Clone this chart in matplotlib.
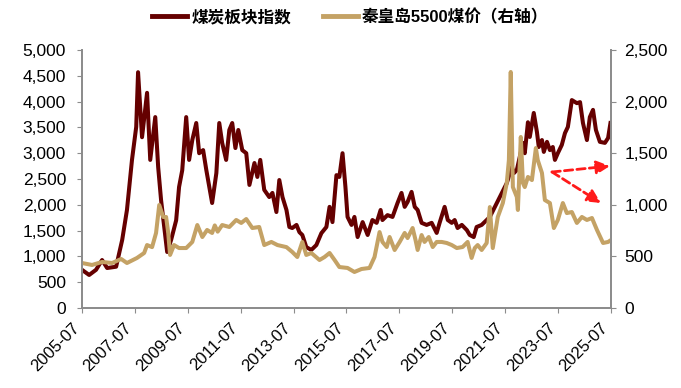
import matplotlib
matplotlib.use('Agg')
import matplotlib.pyplot as plt
from matplotlib.font_manager import FontProperties

# coal sector index (left axis), decimal year
idx_t = [2005.50, 2005.77, 2006.03, 2006.26, 2006.45, 2006.79, 2007.02, 2007.20, 2007.39, 2007.55,
         2007.62, 2007.77, 2007.96, 2008.08, 2008.27, 2008.38, 2008.49, 2008.61, 2008.72, 2008.87,
         2009.06, 2009.17, 2009.29, 2009.44, 2009.55, 2009.67, 2009.82, 2009.93, 2010.08, 2010.20,
         2010.42, 2010.58, 2010.69, 2010.80, 2010.95, 2011.07, 2011.18, 2011.30, 2011.41, 2011.56,
         2011.71, 2011.83, 2012.02, 2012.13, 2012.24, 2012.39, 2012.58, 2012.70, 2012.85, 2012.96,
         2013.08, 2013.23, 2013.34, 2013.45, 2013.61, 2013.72, 2013.83, 2013.98, 2014.17, 2014.36,
         2014.55, 2014.74, 2014.86, 2014.97, 2015.12, 2015.23, 2015.35, 2015.46, 2015.54, 2015.69,
         2015.80, 2015.92, 2016.11, 2016.30, 2016.48, 2016.64, 2016.79, 2016.86, 2017.05, 2017.24,
         2017.43, 2017.58, 2017.70, 2017.81, 2017.96, 2018.08, 2018.19, 2018.34, 2018.53, 2018.72,
         2018.91, 2019.02, 2019.21, 2019.33, 2019.48, 2019.59, 2019.70, 2019.86, 2020.05, 2020.16,
         2020.31, 2020.42, 2020.61, 2020.80, 2020.92, 2021.11, 2021.37, 2021.56, 2021.75, 2021.83,
         2021.94, 2022.05, 2022.17, 2022.24, 2022.36, 2022.43, 2022.58, 2022.70, 2022.77, 2022.89,
         2022.96, 2023.08, 2023.19, 2023.30, 2023.38, 2023.49, 2023.64, 2023.76, 2023.87, 2024.02,
         2024.21, 2024.33, 2024.44, 2024.59, 2024.70, 2024.82, 2024.93, 2025.08, 2025.27, 2025.39,
         2025.48]
idx_v = [740, 640, 740, 930, 775, 800, 1320, 1900, 2870, 3510,
         4570, 3310, 4170, 2870, 3700, 2730, 2090, 1570, 1085, 1320,
         1700, 2345, 2670, 3700, 2870, 3255, 3585, 3000, 3060, 2675,
         2035, 2615, 3585, 3200, 2870, 3450, 3585, 3100, 3450, 3060,
         3000, 2385, 2810, 2540, 2870, 2290, 2150, 2230, 1860, 2480,
         2150, 1900, 1570, 1550, 1610, 1470, 1415, 1180, 1125, 1220,
         1450, 1570, 1960, 1665, 2575, 2540, 3000, 2345, 1765, 1610,
         1765, 1375, 1665, 1415, 1705, 1650, 1900, 1705, 1800, 1765,
         2035, 2230, 1960, 2055, 2250, 1960, 1900, 1650, 1610, 1650,
         1455, 1650, 1960, 1705, 1650, 1705, 1550, 1610, 1510, 1415,
         1375, 1570, 1610, 1705, 1765, 1960, 2230, 2420, 2735, 2615,
         2675, 2930, 3200, 3000, 3600, 3315, 3780, 3410, 3120, 3255,
         3025, 3220, 3060, 3120, 2870, 3000, 3160, 3390, 3510, 4030,
         3970, 3990, 3585, 3255, 3700, 3840, 3450, 3220, 3200, 3295,
         3585]

# Qinhuangdao 5500 coal price (right axis)
px_t = [2005.50, 2005.88, 2006.26, 2006.64, 2006.98, 2007.20, 2007.58, 2007.85, 2007.96, 2008.15,
        2008.30, 2008.42, 2008.57, 2008.68, 2008.76, 2008.83, 2008.98, 2009.17, 2009.44, 2009.67,
        2009.86, 2010.05, 2010.23, 2010.42, 2010.52, 2010.63, 2010.80, 2011.07, 2011.33, 2011.52,
        2011.71, 2011.94, 2012.20, 2012.39, 2012.66, 2012.89, 2013.23, 2013.45, 2013.64, 2013.83,
        2013.98, 2014.17, 2014.48, 2014.67, 2014.86, 2015.05, 2015.23, 2015.54, 2015.80, 2016.07,
        2016.37, 2016.56, 2016.75, 2016.86, 2017.02, 2017.13, 2017.32, 2017.51, 2017.70, 2017.81,
        2018.00, 2018.11, 2018.19, 2018.34, 2018.45, 2018.61, 2018.76, 2018.91, 2019.10, 2019.29,
        2019.48, 2019.67, 2019.89, 2020.08, 2020.23, 2020.35, 2020.46, 2020.61, 2020.80, 2020.92,
        2021.03, 2021.22, 2021.41, 2021.56, 2021.64, 2021.71, 2021.79, 2021.94, 2021.98, 2022.09,
        2022.17, 2022.24, 2022.36, 2022.51, 2022.66, 2022.73, 2022.89, 2023.00, 2023.19, 2023.34,
        2023.49, 2023.68, 2023.83, 2024.02, 2024.21, 2024.40, 2024.59, 2024.78, 2024.97, 2025.20,
        2025.39, 2025.48]
px_v = [436, 417, 446, 436, 475, 436, 485, 533, 610, 590,
        727, 998, 882, 882, 727, 514, 610, 581, 581, 640,
        804, 688, 756, 727, 800, 740, 804, 785, 853, 824,
        862, 775, 785, 610, 640, 610, 590, 543, 494, 640,
        514, 533, 465, 494, 533, 465, 397, 388, 349, 378,
        388, 494, 736, 640, 591, 688, 562, 640, 727, 678,
        775, 659, 562, 707, 640, 688, 591, 640, 640, 630,
        610, 581, 591, 640, 485, 581, 610, 562, 630, 978,
        581, 882, 1017, 1211, 1434, 2287, 1172, 1076, 950, 1657,
        1211, 1172, 1270, 1240, 1550, 1434, 1308, 1046, 1017, 775,
        853, 1017, 920, 930, 824, 882, 853, 872, 756, 630,
        640, 655]

tick_years = list(range(2005, 2026, 2))
tick_labels = [f'{y}-07' for y in tick_years]

# red dashed arrows (left-axis data coords)
arrow_start = (2023.27, 2636)
arrow_ends = [(2025.46, 2752), (2025.12, 2035)]

red = '#650000'
tan = '#C4A265'
grey = '#8c8c8c'

fig = plt.figure(figsize=(6.81, 3.88), dpi=100)
ax = fig.add_axes([0.1204, 0.2062, 0.8972 - 0.1204, 0.8711 - 0.2062])
ax2 = ax.twinx()

l1, = ax.plot(idx_t, idx_v, color=red, lw=2.9, solid_joinstyle='round')
l2, = ax2.plot(px_t, px_v, color=tan, lw=2.9, solid_joinstyle='round')

ax.set_xlim(2005.5, 2025.5)
ax.set_ylim(0, 5000)
ax2.set_ylim(0, 2500)
ax.set_yticks(range(0, 5001, 500))
ax2.set_yticks(range(0, 2501, 500))
ax.set_yticklabels([f'{v:,}' for v in range(0, 5001, 500)])
ax2.set_yticklabels([f'{v:,}' for v in range(0, 2501, 500)])
ax.set_xticks([y + 0.5 for y in tick_years])
ax.set_xticklabels(tick_labels, rotation=45, ha='right', va='top')

tick_font = 'Liberation Sans'
for a in (ax, ax2):
    a.spines['top'].set_visible(False)
    for s in ('left', 'right', 'bottom'):
        a.spines[s].set_color(grey)
        a.spines[s].set_linewidth(1.3)
    for lab in a.get_yticklabels():
        lab.set_fontfamily(tick_font)
        lab.set_fontsize(12.5)
for lab in ax.get_xticklabels():
    lab.set_fontfamily(tick_font)
    lab.set_fontsize(12)
ax.tick_params(axis='y', direction='out', length=3.5, color=grey, pad=8)
ax.tick_params(axis='x', direction='out', length=3.5, color=grey, pad=5)
ax2.tick_params(axis='y', direction='out', length=3.5, color=grey, pad=6)

for end in arrow_ends:
    ax2.annotate('', xy=end, xytext=arrow_start, xycoords=ax.transData, textcoords=ax.transData,
                 arrowprops=dict(arrowstyle='-|>,head_length=0.8,head_width=0.4',
                                 color='#ff1a1a', lw=2, linestyle=(0, (3, 1.5)),
                                 shrinkA=0, shrinkB=0),
                 zorder=5)

leg_font = FontProperties(family=['Liberation Sans', 'Noto Sans CJK SC'], size=12, weight='bold')
fig.legend([l1, l2], ['煤炭板块指数', '秦皇岛5500煤价（右轴）'], loc='center',
           bbox_to_anchor=(0.514, 0.956), ncol=2, frameon=False, prop=leg_font,
           handlelength=2.1, handletextpad=0.25, columnspacing=1.9)
for line in fig.legends[0].get_lines():
    line.set_linewidth(3.5)

fig.savefig('out.png', dpi=100)
